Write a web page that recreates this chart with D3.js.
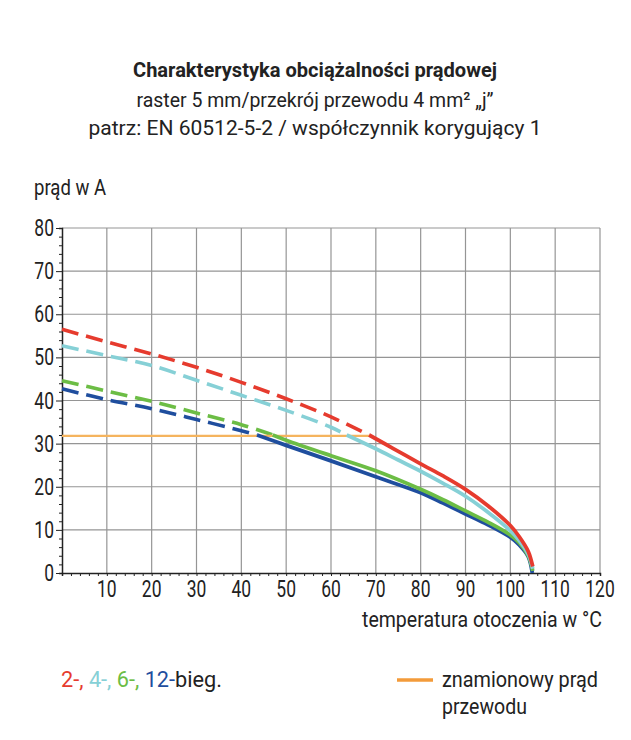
<!DOCTYPE html>
<html><head><meta charset="utf-8">
<script src="https://cdn.jsdelivr.net/npm/d3@7"></script>
<style>
body{margin:0;background:#fff;}
text{font-family:Roboto,"Liberation Sans",sans-serif;fill:#222;}
</style></head>
<body><svg id="c" width="631" height="740"></svg>
<script>
const titleLines = ["Charakterystyka obciążalności prądowej","raster 5 mm/przekrój przewodu 4 mm² „j”","patrz: EN 60512-5-2 / współczynnik korygujący 1"];
const xTicks = [10,20,30,40,50,60,70,80,90,100,110,120];
const yTicks = [0,10,20,30,40,50,60,70,80];
const seriesNames = ["2","4","6","12"];
const seriesColors = ["#e63b2e","#86d0d6","#6cbd45","#1f4e9e"];
// dashed (theoretical) parts
const red_dash   = [[0,56.5],[10,53.6],[20,50.8],[30,47.7],[40,44.2],[50,40.4],[60,36.2],[68.5,32]];
const cyan_dash  = [[0,52.7],[10,50.4],[20,48.1],[30,44.7],[40,41.2],[50,37.7],[60,33.8],[63.5,32]];
const green_dash = [[0,44.6],[10,42.2],[20,39.8],[30,37.1],[40,34.4],[47,32]];
const blue_dash  = [[0,42.7],[10,40.2],[20,38.1],[30,35.6],[40,33.0],[43.5,32]];
// solid parts
const red_solid   = [[68.5,32],[74,28.8],[80,25.3],[85,22.5],[90,19.4],[95,15.6],[100,11.0],[102,8.4],[104,5.0],[105,1.5]];
const cyan_solid  = [[63.5,32],[70,28.8],[75,26.2],[80,23.6],[85,20.8],[90,17.8],[95,14.1],[100,9.8],[102,7.5],[104,4.3],[105,1.0]];
const green_solid = [[47,32],[50,30.8],[60,27.2],[70,23.7],[80,19.4],[85,17.0],[90,14.4],[95,11.8],[100,8.8],[102,7.0],[104,4.0],[105,0.5]];
const blue_solid  = [[43.5,32],[50,29.6],[60,26.0],[70,22.3],[80,18.6],[85,16.2],[90,13.7],[95,11.2],[100,8.3],[102,6.5],[104,3.8],[104.9,0]];
const rated_current = [[0,31.8],[68.5,31.8]];
const legendLeft = ["2-, ","4-, ","6-, ","12-"];

const svg = d3.select("#c");
const x = d3.scaleLinear().domain([0,120]).range([62,600]);
const y = d3.scaleLinear().domain([0,80]).range([573,228]);

// title
const titleY = [77,107,135], titleW = [364,357,453];
svg.selectAll("text.title").data(titleLines).enter().append("text")
  .attr("x",315).attr("y",(d,i)=>titleY[i]).attr("text-anchor","middle")
  .attr("textLength",(d,i)=>titleW[i]).attr("lengthAdjust","spacingAndGlyphs")
  .style("font-size","21px").style("font-weight",(d,i)=>i==0?"bold":"normal").text(d=>d);

// grid
const g = svg.append("g");
g.selectAll("line.vg").data(xTicks).enter().append("line")
  .attr("x1",d=>x(d)).attr("x2",d=>x(d)).attr("y1",y(80)).attr("y2",y(0))
  .attr("stroke","#959595").attr("stroke-width",1.2);
g.selectAll("line.hg").data(yTicks.filter(d=>d>0)).enter().append("line")
  .attr("x1",x(0)).attr("x2",x(120)).attr("y1",d=>y(d)).attr("y2",d=>y(d))
  .attr("stroke","#959595").attr("stroke-width",1.2);

// axes
const xAxis = d3.axisBottom(x).tickValues(d3.range(0,121,2)).tickSize(3).tickFormat("");
const xa = svg.append("g").attr("transform",`translate(0,${y(0)})`).call(xAxis);
xa.select(".domain").attr("stroke","#222").attr("stroke-width",1.5);
xa.selectAll(".tick line").attr("stroke","#222");
const yAxis = d3.axisLeft(y).tickValues(d3.range(0,81,2)).tickSize(3).tickFormat("");
const ya = svg.append("g").attr("transform",`translate(${x(0)},0)`).call(yAxis);
ya.select(".domain").attr("stroke","#222").attr("stroke-width",1.5);
ya.selectAll(".tick line").attr("stroke","#222");
ya.selectAll(".tick").filter(d=>d%10===0).select("line").attr("x2",-6);

svg.selectAll("g.xt").data(xTicks).enter().append("g")
  .attr("transform",d=>`translate(${x(d)},${y(0)+24}) scale(0.76,1)`)
  .append("text").attr("text-anchor","middle").style("font-size","23px").text(d=>d);
svg.selectAll("g.yt").data(yTicks).enter().append("g")
  .attr("transform",d=>`translate(${x(0)-8},${y(d)+8}) scale(0.76,1)`)
  .append("text").attr("text-anchor","end").style("font-size","23px").text(d=>d);

svg.append("text").attr("x",34).attr("y",195).attr("textLength",72).attr("lengthAdjust","spacingAndGlyphs")
  .style("font-size","22px").text("prąd w A");
svg.append("text").attr("x",362).attr("y",627).attr("textLength",240).attr("lengthAdjust","spacingAndGlyphs")
  .style("font-size","22px").text("temperatura otoczenia w °C");

// lines
const line = d3.line().x(d=>x(d[0])).y(d=>y(d[1])).curve(d3.curveCatmullRom.alpha(0.5));
const dashes = [red_dash,cyan_dash,green_dash,blue_dash];
const solids = [red_solid,cyan_solid,green_solid,blue_solid];
dashes.forEach((d,i)=>{
  svg.append("path").datum(d).attr("d",line).attr("fill","none")
    .attr("stroke",seriesColors[i]).attr("stroke-width",3.6).attr("stroke-dasharray","17,8");
});
svg.append("path").datum(rated_current).attr("d",line).attr("fill","none")
  .attr("stroke","#f5b45e").attr("stroke-width",2.2);
[3,2,1,0].forEach(i=>{
  svg.append("path").datum(solids[i]).attr("d",line).attr("fill","none")
    .attr("stroke",seriesColors[i]).attr("stroke-width",3.8).attr("stroke-linecap","butt");
});

// legend
const lt = svg.append("text").attr("x",61).attr("y",687).style("font-size","22px")
  .attr("textLength",161).attr("lengthAdjust","spacingAndGlyphs");
legendLeft.forEach((t,i)=>lt.append("tspan").style("fill",seriesColors[i]).text(t));
lt.append("tspan").text("bieg.");
svg.append("line").attr("x1",397).attr("x2",433).attr("y1",680).attr("y2",680)
  .attr("stroke","#f39b3a").attr("stroke-width",3.5);
svg.append("text").attr("x",442).attr("y",687).attr("textLength",156).attr("lengthAdjust","spacingAndGlyphs")
  .style("font-size","22px").text("znamionowy prąd");
svg.append("text").attr("x",442).attr("y",714).attr("textLength",85).attr("lengthAdjust","spacingAndGlyphs")
  .style("font-size","22px").text("przewodu");
</script></body></html>
